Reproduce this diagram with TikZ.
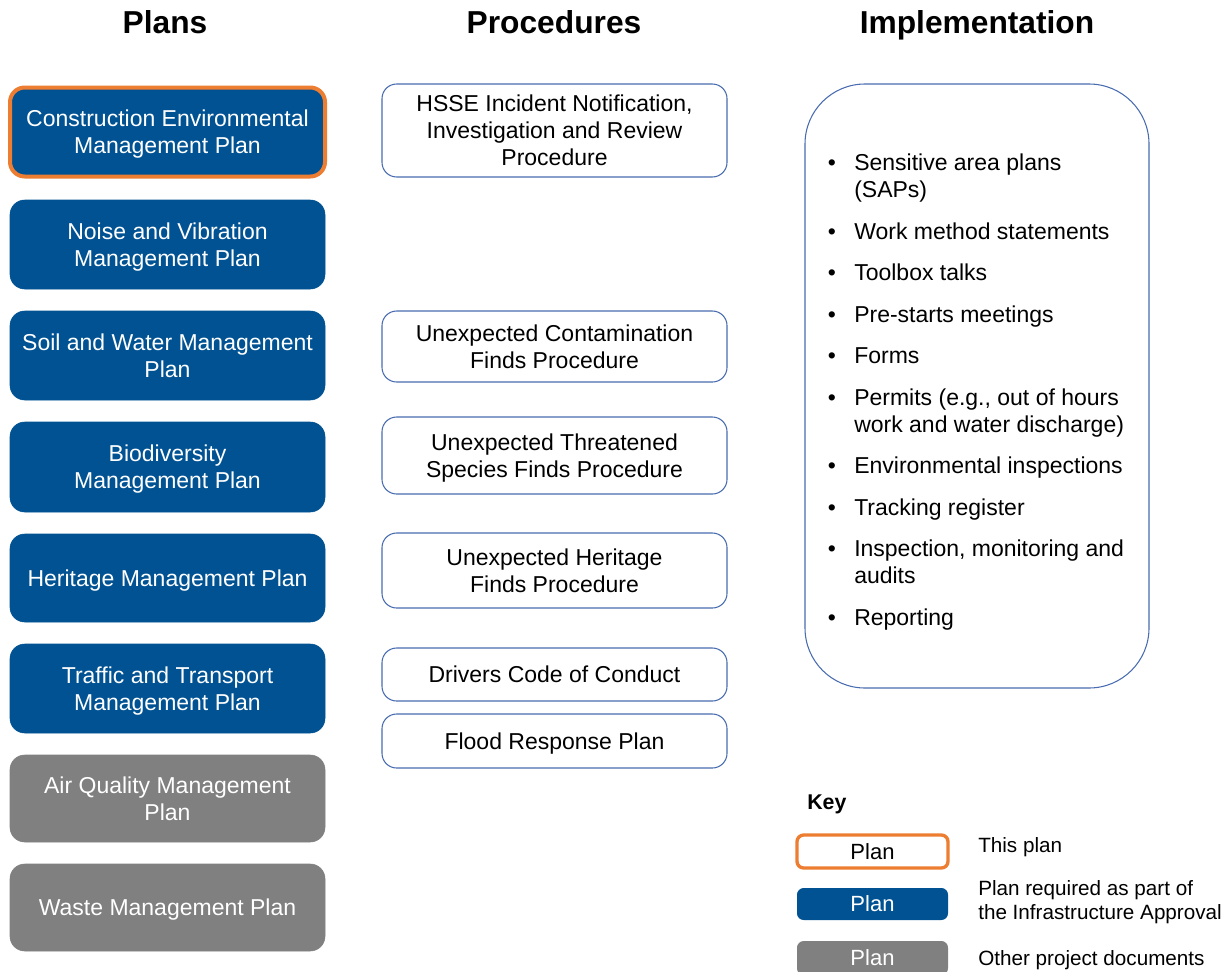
\documentclass[tikz,border=0pt]{standalone}
\usepackage{fontspec}
\setmainfont{Liberation Sans}
\definecolor{planblue}{RGB}{0,82,147}
\definecolor{plangray}{RGB}{128,128,128}
\definecolor{planorange}{RGB}{237,125,49}
\definecolor{procline}{RGB}{72,108,175}
\begin{document}
\begin{tikzpicture}[x=0.75pt,y=-0.75pt,
  txt/.style={font=\fontsize{17.25}{20.25}\selectfont, align=center, text depth=0pt},
  plan/.style={txt, fill=planblue, draw=planblue, text=white, rounded corners=11pt,
    minimum width=315*0.75pt, inner sep=0pt},
  other/.style={plan, fill=plangray, draw=plangray},
  thisplan/.style={plan, draw=planorange, line width=3pt},
  proc/.style={txt, draw=procline, line width=0.8pt, fill=white, rounded corners=11pt,
    minimum width=345*0.75pt, inner sep=0pt},
  head/.style={font=\fontsize{23.8}{28}\selectfont\bfseries, anchor=base},
  item/.style={font=\fontsize{17.25}{20.25}\selectfont, anchor=base west, inner sep=0pt},
  bul/.style={font=\fontsize{17.25}{20.25}\selectfont, anchor=base, inner sep=0pt},
  keybox/.style={font=\fontsize{16.5}{19}\selectfont, rounded corners=5pt, minimum width=151*0.75pt, inner sep=0pt},
  keytxt/.style={font=\fontsize{15.5}{18}\selectfont, anchor=base west, inner sep=0pt}]
\useasboundingbox (0,0) rectangle (1228,971);

% headings
\node[head] (hplans) at (165,33) {Plans};
\node[head] (hproc) at (554,33) {Procedures};
\node[head] (himpl) at (977,33) {Implementation};

% plans
\node[thisplan, minimum height=89*0.75pt] (cemp) at (167.5,132) {Construction Environmental\\Management Plan};
\node[plan, minimum height=89*0.75pt] (noise) at (167.5,244.5) {Noise and Vibration\\Management Plan};
\node[plan, minimum height=89*0.75pt] (soil) at (167.5,355.5) {Soil and Water Management\\Plan};
\node[plan, minimum height=90*0.75pt] (bio) at (167.5,467) {Biodiversity\\Management Plan};
\node[plan, minimum height=88*0.75pt] (herit) at (167.5,578) {Heritage Management Plan};
\node[plan, minimum height=89*0.75pt] (traffic) at (167.5,688.5) {Traffic and Transport\\Management Plan};
\node[other, minimum height=87*0.75pt] (air) at (167.5,798.5) {Air Quality Management\\Plan};
\node[other, minimum height=87*0.75pt] (waste) at (167.5,907.5) {Waste Management Plan};

% procedures
\node[proc, minimum height=93*0.75pt] (hsse) at (554.5,130.5) {HSSE Incident Notification,\\Investigation and Review\\Procedure};
\node[proc, minimum height=71*0.75pt] (contam) at (554.5,346.5) {Unexpected Contamination\\Finds Procedure};
\node[proc, minimum height=77*0.75pt] (threat) at (554.5,455.5) {Unexpected Threatened\\Species Finds Procedure};
\node[proc, minimum height=75*0.75pt] (hfinds) at (554.5,570.5) {Unexpected Heritage\\Finds Procedure};
\node[proc, minimum height=53*0.75pt] (drivers) at (554.5,674.5) {Drivers Code of Conduct};
\node[proc, minimum height=54*0.75pt] (flood) at (554.5,741) {Flood Response Plan};

% implementation
\node[draw=procline, line width=0.8pt, rounded corners=45pt, minimum width=344*0.75pt,
  minimum height=604*0.75pt, inner sep=0pt] (impl) at (977,386) {};
\foreach \yy in {162,231,272,314,355,397,465,507,548,617}{
  \node[bul] (b\yy) at (832,\yy+8) {•};
}
\foreach \yy/\tt in {162/{Sensitive area plans}, 189/{(SAPs)},
  231/{Work method statements}, 272/{Toolbox talks}, 314/{Pre-starts meetings},
  355/{Forms}, 397/{Permits (e.g., out of hours}, 424/{work and water discharge)},
  465/{Environmental inspections}, 507/{Tracking register},
  548/{Inspection, monitoring and}, 575/{audits}, 617/{Reporting}}{
  \node[item] (it\yy) at (854,\yy+8) {\tt};
}

% key
\node[font=\fontsize{16}{20}\selectfont\bfseries, anchor=west, inner sep=0pt] (key) at (807,804) {Key};
\node[keybox, draw=planorange, line width=2.5pt, fill=white, minimum height=33*0.75pt] (k1) at (872.5,851.5) {Plan};
\node[keybox, fill=planblue, text=white, minimum height=32*0.75pt] (k2) at (872.5,904) {Plan};
\node[keybox, fill=plangray, text=white, minimum height=34*0.75pt] (k3) at (872.5,958) {Plan};
\node[keytxt] (l1) at (978,852) {This plan};
\node[keytxt] (l2a) at (978,895) {Plan required as part of};
\node[keytxt] (l2b) at (978,919) {the Infrastructure Approval};
\node[keytxt] (l3) at (978,965) {Other project documents};
\end{tikzpicture}
\end{document}
